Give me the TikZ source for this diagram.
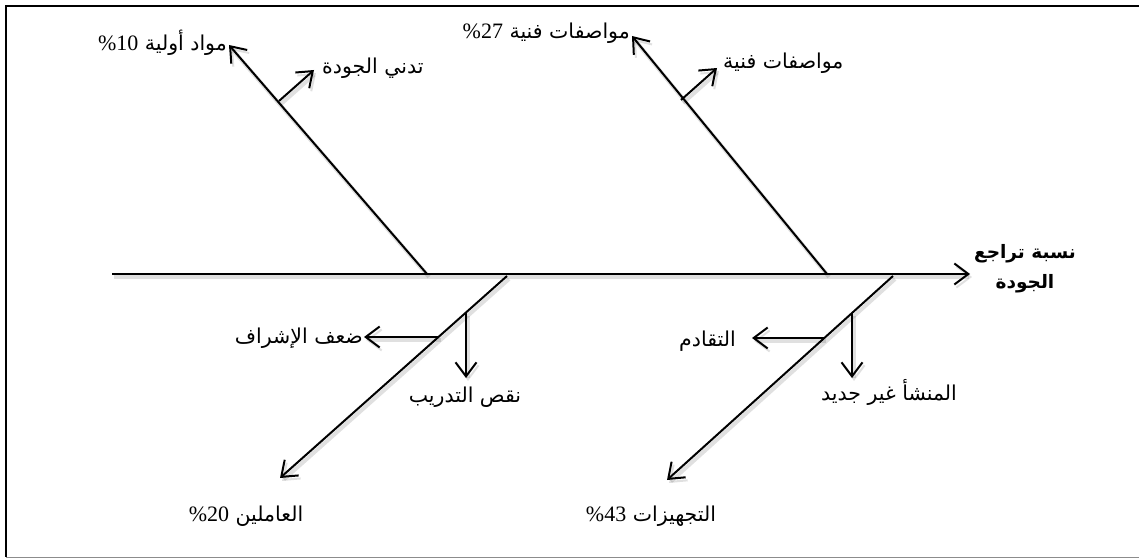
\documentclass[tikz,border=0pt]{standalone}
\usepackage{fontspec}
\usetikzlibrary{arrows.meta}
\TeXXeTstate=1
\newfontfamily\arabicfont[Script=Arabic]{DejaVu Sans}
\newfontfamily\latnum{Liberation Serif}
\newcommand{\artext}[1]{{\arabicfont\beginR #1\endR}}
\newcommand{\arpct}[2]{{\arabicfont\beginR #1 \beginL{\latnum\fontsize{22}{24}\selectfont\%#2}\endL\endR}}

\begin{document}
\begin{tikzpicture}[x=1pt,y=-1pt,
  tip/.tip={Straight Barb[length=14pt,width=21pt,line width=2pt]},
  shade/.style={preaction={draw=black,opacity=0.12,line width=4pt,
      transform canvas={shift={(2pt,-3pt)}}}},
  bone/.style={line width=2pt,-tip,shade},
  lbl/.style={inner sep=1pt,font=\fontsize{20.5}{24}\selectfont},
  effectlbl/.style={inner sep=1pt,align=center,font=\fontsize{18.5}{30}\selectfont\bfseries}]

\useasboundingbox (0,0) rectangle (1139,559);

% frame (open on the right)
\draw[line width=2.2pt] (1139,6) -- (6,6) -- (6,557);
\draw[line width=1pt,black!45] (6,557) -- (1139,557);

% spine and effect
\coordinate (tail) at (112,274);
\node[effectlbl] (effect) at (1025,269) {\artext{نسبة تراجع}\\\artext{الجودة}};
\draw[bone] (tail) -- (970,274);

% upper bone: raw materials
\coordinate (u1base) at (427,274);
\coordinate (u1tip) at (229,45);
\coordinate (u1sub) at (279,101);
\coordinate (u1subtip) at (314,70);
\node[lbl,anchor=east] (raw) at (228,43) {\arpct{مواد أولية}{10}};
\node[lbl,anchor=west] (rawcause) at (321,68) {\artext{تدني الجودة}};
\draw[bone] (u1base) -- (u1tip);
\draw[bone] (u1sub) -- (u1subtip);

% upper bone: specifications
\coordinate (u2base) at (827,274);
\coordinate (u2tip) at (632,36);
\coordinate (u2sub) at (681,100);
\coordinate (u2subtip) at (717,68);
\node[lbl,anchor=east] (spec) at (631,33) {\arpct{مواصفات فنية}{27}};
\node[lbl,anchor=west] (speccause) at (722,63) {\artext{مواصفات فنية}};
\draw[bone] (u2base) -- (u2tip);
\draw[bone] (u2sub) -- (u2subtip);

% lower bone: workers
\coordinate (l1base) at (507,276);
\coordinate (l1tip) at (280,478);
\coordinate (l1h) at (439,337);
\coordinate (l1htip) at (364,337);
\coordinate (l1v) at (466,313);
\coordinate (l1vtip) at (466,378);
\node[lbl] (staff) at (246,516) {\arpct{العاملين}{20}};
\node[lbl,anchor=east] (superv) at (364,338) {\artext{ضعف الإشراف}};
\node[lbl] (train) at (465,397) {\artext{نقص التدريب}};
\draw[bone] (l1base) -- (l1tip);
\draw[bone] (l1h) -- (l1htip);
\draw[bone] (l1v) -- (l1vtip);

% lower bone: equipment
\coordinate (l2base) at (893,276);
\coordinate (l2tip) at (667,480);
\coordinate (l2h) at (824,338);
\coordinate (l2htip) at (752,338);
\coordinate (l2v) at (852,313);
\coordinate (l2vtip) at (852,378);
\node[lbl] (equip) at (651,516) {\arpct{التجهيزات}{43}};
\node[lbl,anchor=east] (aging) at (737,341) {\artext{التقادم}};
\node[lbl] (origin) at (889,392) {\artext{المنشأ غير جديد}};
\draw[bone] (l2base) -- (l2tip);
\draw[bone] (l2h) -- (l2htip);
\draw[bone] (l2v) -- (l2vtip);

\end{tikzpicture}
\end{document}
